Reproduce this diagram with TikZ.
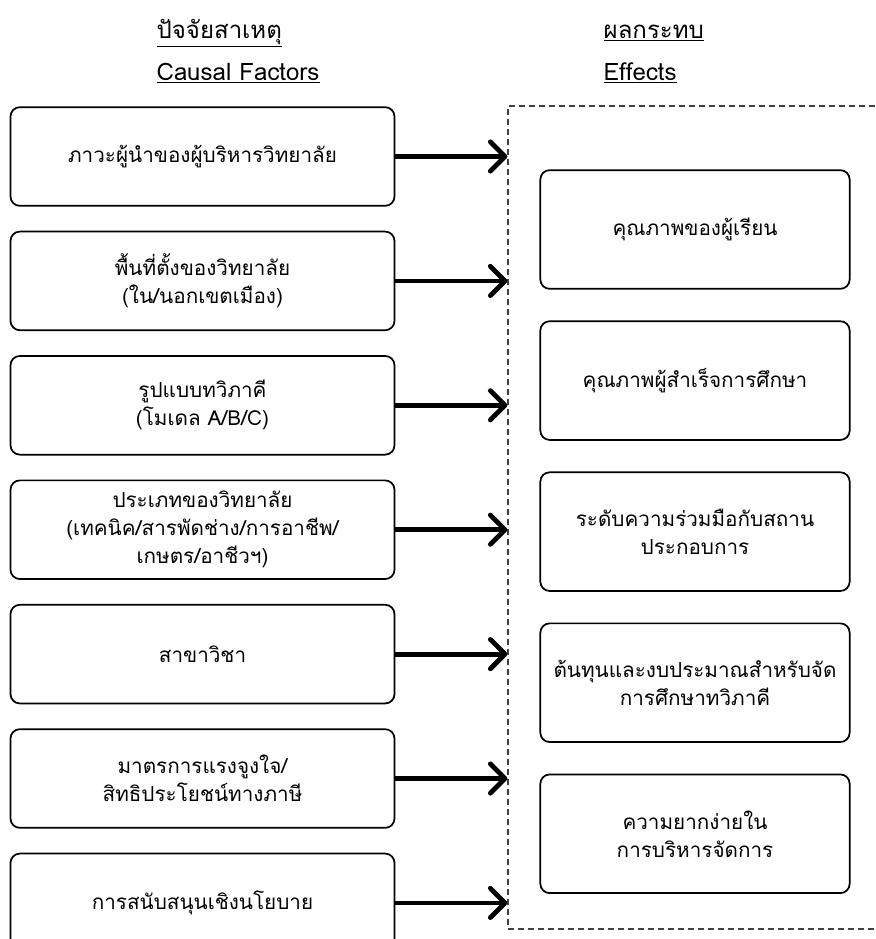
\documentclass[tikz,border=0pt]{standalone}
\usepackage{fontspec}
\setmainfont[Script=Thai]{Loma}
\usetikzlibrary{arrows.meta,positioning,fit,calc}
\tikzset{cause/.style={draw=black,line width=1.3pt,rounded corners=7pt,align=center,minimum width=288pt,minimum height=74pt,font=\fontsize{15.5}{21}\selectfont},
effect/.style={draw=black,line width=1.3pt,rounded corners=7pt,align=center,minimum width=232pt,minimum height=89pt,font=\fontsize{15.5}{21}\selectfont},
head/.style={anchor=west,font=\fontsize{18}{22}\selectfont},
link/.style={-{Straight Barb[length=11pt,width=22pt,round]},line width=3.6pt,draw=black}}

\begin{document}
\begin{tikzpicture}[x=0.75pt,y=-0.75pt,node distance=18pt]
\useasboundingbox (0,0) rectangle (875,939);
\node[head] (hcth) at (152,33) {\underline{ปัจจัยสาเหตุ}};
\node[head] (hcen) at (152,73) {\underline{Causal Factors}};
\node[head] (heth) at (599,33) {\underline{ผลกระทบ}};
\node[head] (heen) at (599,73) {\underline{Effects}};
% causal factors
\node[cause] (c1) at (202.5,156.5) {ภาวะผู้นำของผู้บริหารวิทยาลัย};
\node[cause,below=of c1] (c2) {พื้นที่ตั้งของวิทยาลัย\\(ใน/นอกเขตเมือง)};
\node[cause,below=of c2] (c3) {รูปแบบทวิภาคี\\(โมเดล A/B/C)};
\node[cause,below=of c3] (c4) {ประเภทของวิทยาลัย\\(เทคนิค/สารพัดช่าง/การอาชีพ/\\เกษตร/อาชีวฯ)};
\node[cause,below=of c4] (c5) {สาขาวิชา};
\node[cause,below=of c5] (c6) {มาตรการแรงจูงใจ/\\สิทธิประโยชน์ทางภาษี};
\node[cause,below=of c6] (c7) {การสนับสนุนเชิงนโยบาย};
% effects
\node[effect] (e1) at (695,229.5) {คุณภาพของผู้เรียน};
\node[effect,below=of e1,yshift=-5pt] (e2) {คุณภาพผู้สำเร็จการศึกษา};
\node[effect,below=of e2,yshift=-5pt] (e3) {ระดับความร่วมมือกับสถาน\\ประกอบการ};
\node[effect,below=of e3,yshift=-5pt] (e4) {ต้นทุนและงบประมาณสำหรับจัด\\การศึกษาทวิภาคี};
\node[effect,below=of e4,yshift=-5pt] (e5) {ความยากง่ายใน\\การบริหารจัดการ};
\coordinate (zonenw) at (508,106);\coordinate (zonese) at (895,929);
\node[draw=black!75,line width=0.9pt,dash pattern=on 4.5pt off 3pt,inner sep=0pt,fit=(zonenw)(zonese)] (zone) {};
\foreach \i in {1,...,7}{\draw[link] (c\i.east) -- (c\i.east -| zone.west);}
\end{tikzpicture}
\end{document}
